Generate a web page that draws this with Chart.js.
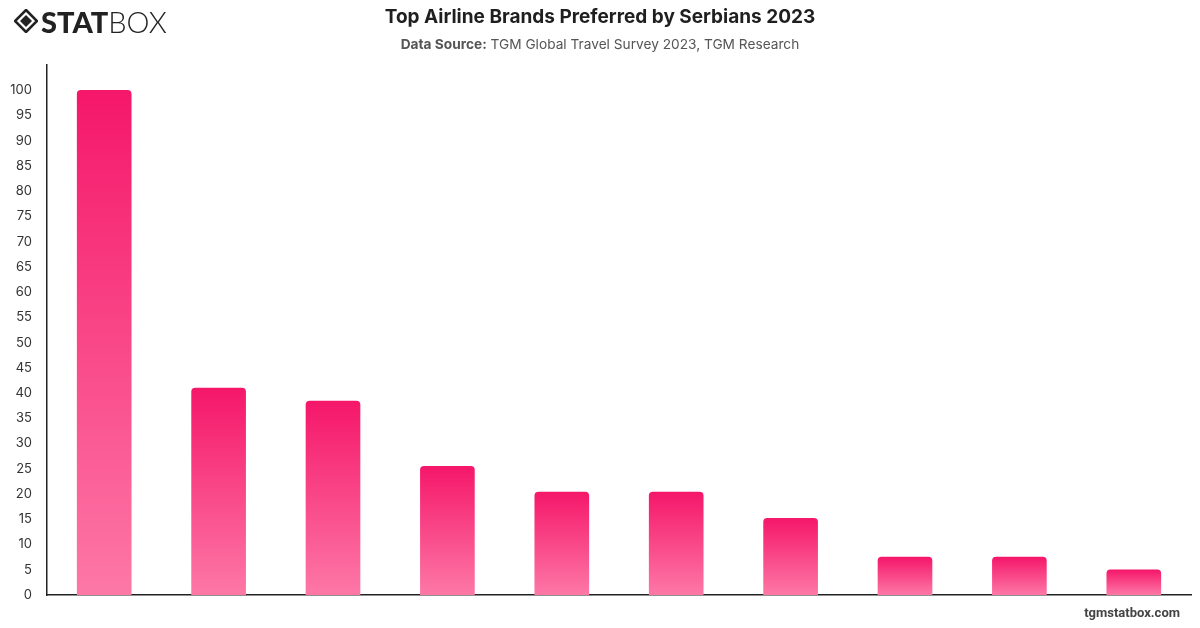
<!DOCTYPE html>
<html>
<head>
<meta charset="utf-8">
<script src="https://cdn.jsdelivr.net/npm/chart.js@4.4.1/dist/chart.umd.min.js"></script>
<style>
  html, body { margin: 0; padding: 0; background: #fff; }
  #wrap { position: relative; width: 1200px; height: 628px; overflow: hidden; font-family: Inter, "Liberation Sans", sans-serif; }
  #chart { position: absolute; left: 0; top: 0; }
  #title { position: absolute; left: 0; width: 1200px; top: 5px; text-align: center; font-size: 19px; font-weight: 700; color: #1f1f1f; letter-spacing: 0px; }
  #subtitle { position: absolute; left: 0; width: 1200px; top: 36px; text-align: center; font-size: 13.7px; color: #555; }
  #subtitle b { font-weight: 700; color: #555; }
  #logo { position: absolute; left: 14px; top: 6px; height: 30px; display: flex; align-items: center; }
  #logo .stat { font-family: Lato, sans-serif; font-weight: 900; font-size: 29px; color: #222; letter-spacing: 0px; margin-left: 3px; }
  #logo .box { font-family: Lato, sans-serif; font-weight: 300; font-size: 29px; color: #222; }
  #footer { position: absolute; right: 20px; top: 605px; font-family: Roboto, sans-serif; font-weight: 700; font-size: 13px; color: #444; }
</style>
</head>
<body>
<div id="wrap">
  <canvas id="chart" width="1200" height="628"></canvas>
  <div id="logo">
    <svg width="24" height="24" viewBox="0 0 24 24">
      <polygon points="12,1 23,12 12,23 1,12" fill="none" stroke="#222" stroke-width="2.6"/>
      <polygon points="12,6 18,12 12,18 6,12" fill="#222"/>
    </svg>
    <span class="stat">STAT</span><span class="box">BOX</span>
  </div>
  <div id="title">Top Airline Brands Preferred by Serbians 2023</div>
  <div id="subtitle"><b>Data Source:</b> TGM Global Travel Survey 2023, TGM Research</div>
  <div id="footer">tgmstatbox.com</div>
</div>
<script>
// Data (x-axis category labels are not visible in the reference)
const categories = ["Brand 1", "Brand 2", "Brand 3", "Brand 4", "Brand 5", "Brand 6", "Brand 7", "Brand 8", "Brand 9", "Brand 10"];
const shareValues = [100, 41, 38.4, 25.5, 20.4, 20.4, 15.2, 7.5, 7.5, 5];
const yTickMax = 105;
const yTickStep = 5;

function barGradient(context) {
  const chart = context.chart;
  const area = chart.chartArea;
  if (!area) return '#f5196b';
  const ys = chart.scales.y;
  const v = context.raw;
  const top = ys.getPixelForValue(v);
  const bottom = ys.getPixelForValue(0);
  const g = chart.ctx.createLinearGradient(0, top, 0, bottom);
  g.addColorStop(0, '#f5176a');
  g.addColorStop(1, '#fd78a6');
  return g;
}

new Chart(document.getElementById('chart'), {
  type: 'bar',
  data: {
    labels: categories,
    datasets: [{
      data: shareValues,
      backgroundColor: barGradient,
      borderRadius: { topLeft: 4, topRight: 4, bottomLeft: 0, bottomRight: 0 },
      borderSkipped: 'bottom',
      barThickness: 54
    }]
  },
  options: {
    responsive: false,
    animation: false,
    devicePixelRatio: 1,
    layout: { padding: { top: 65, right: 9, bottom: 33, left: 0 } },
    plugins: { legend: { display: false }, tooltip: { enabled: false }, title: { display: false } },
    scales: {
      x: {
        grid: { display: false, drawTicks: false },
        border: { display: true, color: '#222', width: 1.5 },
        ticks: { display: false },
        afterFit: s => { s.height = 0; }
      },
      y: {
        min: 0,
        max: yTickMax,
        grid: { display: false, drawTicks: false },
        border: { display: true, color: '#222', width: 1.5 },
        ticks: {
          stepSize: yTickStep,
          padding: 15,
          color: '#333',
          font: { family: 'Inter, "Liberation Sans", sans-serif', size: 13 },
          callback: v => (v > 100 ? '' : v)
        },
        afterFit: s => { s.width = 47; }
      }
    }
  }
});
</script>
</body>
</html>
